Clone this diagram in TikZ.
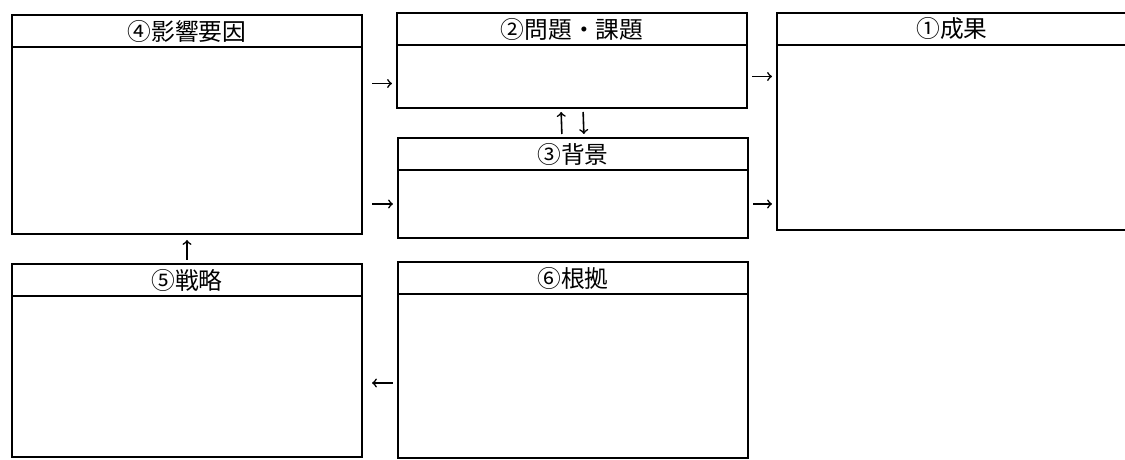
\documentclass[tikz,border=0pt]{standalone}
\usepackage{fontspec}
\setmainfont{Noto Sans CJK JP}
\usetikzlibrary{arrows,positioning}

\begin{document}
\begin{tikzpicture}[x=0.2mm, y=-0.2mm, every node/.style={
    rectangle,
    draw,
    line width=1.3pt,
    outer sep=0pt,
    inner sep=0pt,
    minimum width=70mm,
    font=\fontsize{13.5}{15}\selectfont
}, head/.style={minimum height=6.4mm}, arr/.style={->, line width=0.9pt}]
    \path[use as bounding box, clip] (0,0) rectangle (1125,460);

    \node (yoin_head) [head, shift={(187, 31)}]
    {
        ④影響要因
    };

    \node (yoin_body) [minimum height=37.4mm, below=0pt of yoin_head] {};

    \node (mondai_head) [head, shift={(572, 29)}]
    {
        ②問題・課題
    };

    \node (mondai_body) [minimum height=12.6mm, below=0pt of mondai_head] {};

    \node (haikei_head) [head, shift={(573, 154)}]
    {
        ③背景
    };

    \node (haikei_body) [minimum height=13.6mm, below=0pt of haikei_head] {};

    \node (seika_head) [head, shift={(952, 29)}]
    {
        ①成果
    };

    \node (seika_body) [minimum height=37mm, below=0pt of seika_head] {};

    \node (senryaku_head) [head, shift={(187, 280)}]
    {
        ⑤戦略
    };

    \node (senryaku_body) [minimum height=32.2mm, below=0pt of senryaku_head] {};

    \node (konkyo_head) [head, shift={(573, 278)}]
    {
        ⑥根拠
    };

    \node (konkyo_body) [minimum height=32.8mm, below=0pt of konkyo_head] {};


    \draw[arr, shorten <=2mm, shorten >=1mm] ([yshift=-1.4mm]yoin_body.east |- mondai_body.west) to ([yshift=-1.4mm]mondai_body.west);
    \draw[arr, shorten <=2mm, shorten >=1mm] (yoin_body.east |- haikei_body.west) to (haikei_body.west);

    \draw[arr, shorten <=1mm, shorten >=1mm] (mondai_body.east) to (mondai_body.east -| seika_body.west);
    \draw[arr, shorten <=1mm, shorten >=1mm] (haikei_body.east) to (haikei_body.east -| seika_body.west);

    \draw[arr, shorten <=0.8mm, shorten >=0.8mm] ([xshift=-2.2mm]haikei_head.north) to ([xshift=-2.2mm]mondai_body.south);
    \draw[arr, shorten <=0.8mm, shorten >=0.8mm] ([xshift=2.2mm]mondai_body.south) to ([xshift=2.2mm]haikei_head.north);

    \draw[arr, shorten <=0.8mm, shorten >=1.2mm] (senryaku_head.north) to (yoin_body.south);
    \draw[arr, shorten <=1mm, shorten >=2mm] ([yshift=-1.4mm]konkyo_body.west) to ([yshift=-1.4mm]konkyo_body.west -| senryaku_body.east);
\end{tikzpicture}
\end{document}
